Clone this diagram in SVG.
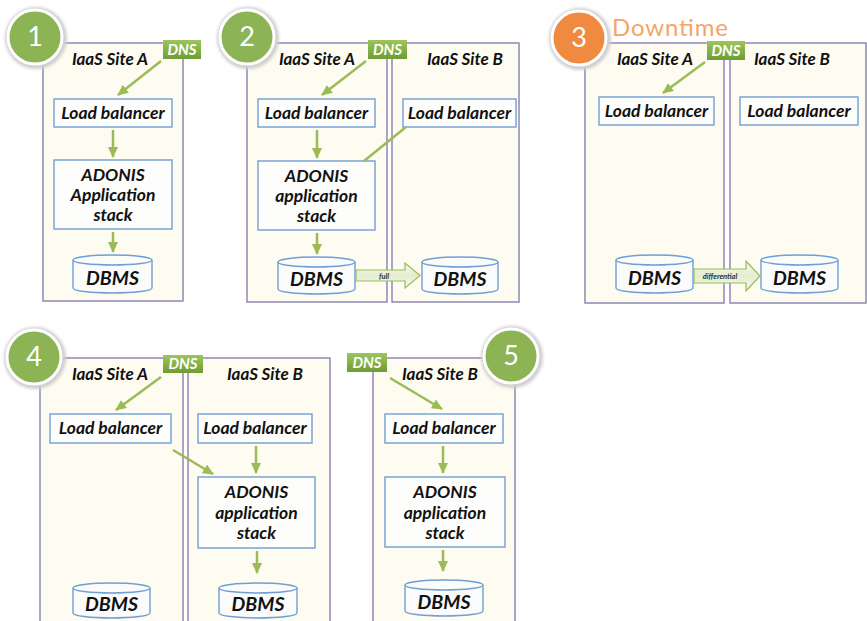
<svg xmlns="http://www.w3.org/2000/svg" width="867" height="621" viewBox="0 0 867 621">
<defs>
<style>
.site{fill:#fefcf1;stroke:#8e87b6;stroke-width:1.5}
.node{fill:#fdfdfb;stroke:#6f9fd3;stroke-width:1.4}
.cyl{fill:#fbfbfb;stroke:#6f9fd3;stroke-width:1.4}
.t{font-family:Lato,"Liberation Sans",sans-serif;font-weight:bold;font-style:italic;fill:#111111;text-anchor:middle}
.site-t{font-size:17px}
.node-t{font-size:17.5px}
.db-t{font-size:19.5px}
.dns{fill:url(#dnsg)}
.dns-t{font-family:Lato,"Liberation Sans",sans-serif;font-weight:bold;font-style:italic;font-size:15px;fill:#ffffff;text-anchor:middle}
.num{font-family:Lato,"Liberation Sans",sans-serif;font-size:27px;fill:#ffffff;text-anchor:middle}
.cg{fill:#8cb354;stroke:#ffffff;stroke-width:3}
.co{fill:#ef8a40;stroke:#ffffff;stroke-width:3}
.sh{fill:#cfcfcf;filter:url(#blur)}
.conn{stroke:#9bbb59;stroke-width:2.5;fill:none}
.blk{fill:url(#blkg);stroke:#9bbb59;stroke-width:1.2}
.small{font-family:Lato,"Liberation Sans",sans-serif;font-style:italic;font-weight:bold;fill:#333;text-anchor:middle}
</style>
<linearGradient id="dnsg" x1="0" y1="0" x2="0" y2="1">
<stop offset="0" stop-color="#9cc65c"/><stop offset="1" stop-color="#6f9d33"/>
</linearGradient>
<linearGradient id="blkg" x1="0" y1="0" x2="0" y2="1">
<stop offset="0" stop-color="#f6f9ee"/><stop offset="0.5" stop-color="#e4edcf"/><stop offset="1" stop-color="#f6f9ee"/>
</linearGradient>
<filter id="blur" x="-20%" y="-20%" width="140%" height="140%"><feGaussianBlur stdDeviation="1.5"/></filter>
<marker id="ah" markerUnits="userSpaceOnUse" markerWidth="11" markerHeight="10" refX="10" refY="5" orient="auto">
<path d="M0,0 L11,5 L0,10 z" fill="#9bbb59"/>
</marker>
</defs>
<rect width="867" height="621" fill="#ffffff"/>

<!-- Panel 1 -->
<g id="p1-siteA"><rect class="site" x="43" y="43" width="140" height="258"/><text class="t site-t" x="110" y="65">IaaS Site A</text></g>
<g id="p1-lb"><rect class="node" x="54" y="99" width="118" height="28"/><text class="t node-t" x="113" y="119">Load balancer</text></g>
<g id="p1-adonis"><rect class="node" x="54" y="160" width="118" height="69"/><text class="t node-t" x="113" y="181">ADONIS</text><text class="t node-t" x="113" y="201">Application</text><text class="t node-t" x="113" y="221">stack</text></g>
<g id="p1-dbms"><path class="cyl" d="M73,260 a39.5,5 0 0 1 79,0 v28 a39.5,5 0 0 1 -79,0 z"/><path class="cyl" d="M73,260 a39.5,5 0 0 0 79,0" fill="none"/><text class="t db-t" x="112.5" y="285">DBMS</text></g>
<g id="p1-dns"><rect class="dns" x="163" y="40" width="38" height="19"/><text class="dns-t" x="182" y="55">DNS</text></g>
<g id="p1-step"><circle class="sh" cx="36" cy="38" r="31"/><circle class="cg" cx="35" cy="37" r="27"/><text class="num" x="35" y="46">1</text></g>

<!-- Panel 2 -->
<g id="p2-siteA"><rect class="site" x="247" y="43" width="140" height="259"/><text class="t site-t" x="317" y="65">IaaS Site A</text></g>
<g id="p2-siteB"><rect class="site" x="392" y="43" width="127" height="259"/><text class="t site-t" x="465" y="65">IaaS Site B</text></g>
<g id="p2-lbA"><rect class="node" x="258" y="99" width="117" height="28"/><text class="t node-t" x="316.5" y="119">Load balancer</text></g>
<g id="p2-lbB"><rect class="node" x="403" y="99" width="113" height="28"/><text class="t node-t" x="459.5" y="119">Load balancer</text></g>
<g id="p2-adonis"><rect class="node" x="258" y="161" width="117" height="69"/><text class="t node-t" x="316.5" y="182">ADONIS</text><text class="t node-t" x="316.5" y="202">application</text><text class="t node-t" x="316.5" y="222">stack</text></g>
<g id="p2-dbmsA"><path class="cyl" d="M278,262 a38.5,5 0 0 1 77,0 v27 a38.5,5 0 0 1 -77,0 z"/><path class="cyl" d="M278,262 a38.5,5 0 0 0 77,0" fill="none"/><text class="t db-t" x="316.5" y="286">DBMS</text></g>
<g id="p2-dbmsB"><path class="cyl" d="M422,262 a38,5 0 0 1 76,0 v27 a38,5 0 0 1 -76,0 z"/><path class="cyl" d="M422,262 a38,5 0 0 0 76,0" fill="none"/><text class="t db-t" x="460" y="286">DBMS</text></g>
<g id="p2-dns"><rect class="dns" x="368" y="40" width="39" height="19"/><text class="dns-t" x="387.5" y="55">DNS</text></g>
<g id="p2-step"><circle class="sh" cx="248" cy="38" r="31"/><circle class="cg" cx="247" cy="37" r="27"/><text class="num" x="247" y="46">2</text></g>

<!-- Panel 3 -->
<g id="p3-siteA"><rect class="site" x="585" y="43" width="139" height="260"/><text class="t site-t" x="655" y="65">IaaS Site A</text></g>
<g id="p3-siteB"><rect class="site" x="730" y="43" width="136" height="260"/><text class="t site-t" x="792" y="65">IaaS Site B</text></g>
<g id="p3-lbA"><rect class="node" x="599" y="97" width="115" height="28"/><text class="t node-t" x="656.5" y="117">Load balancer</text></g>
<g id="p3-lbB"><rect class="node" x="740" y="97" width="118" height="28"/><text class="t node-t" x="799" y="117">Load balancer</text></g>
<g id="p3-dbmsA"><path class="cyl" d="M616,260 a38.5,5 0 0 1 77,0 v28 a38.5,5 0 0 1 -77,0 z"/><path class="cyl" d="M616,260 a38.5,5 0 0 0 77,0" fill="none"/><text class="t db-t" x="654.5" y="285">DBMS</text></g>
<g id="p3-dbmsB"><path class="cyl" d="M761,260 a38.5,5 0 0 1 77,0 v28 a38.5,5 0 0 1 -77,0 z"/><path class="cyl" d="M761,260 a38.5,5 0 0 0 77,0" fill="none"/><text class="t db-t" x="799.5" y="285">DBMS</text></g>
<g id="p3-dns"><rect class="dns" x="707" y="41" width="38" height="19"/><text class="dns-t" x="726" y="56">DNS</text></g>
<g id="p3-step"><circle class="sh" cx="580" cy="39" r="31"/><circle class="co" cx="579" cy="38" r="27"/><text class="num" x="579" y="47">3</text></g>
<text id="p3-downtime" x="612" y="36" font-family="Lato,'Liberation Sans',sans-serif" font-size="24" fill="#f5a468" textLength="116">Downtime</text>

<!-- Panel 4 -->
<g id="p4-siteA"><rect class="site" x="40" y="358" width="143" height="280"/><text class="t site-t" x="110" y="380">IaaS Site A</text></g>
<g id="p4-siteB"><rect class="site" x="188" y="358" width="142" height="280"/><text class="t site-t" x="265" y="380">IaaS Site B</text></g>
<g id="p4-lbA"><rect class="node" x="50" y="414" width="121" height="29"/><text class="t node-t" x="110.5" y="434">Load balancer</text></g>
<g id="p4-lbB"><rect class="node" x="198" y="414" width="114" height="29"/><text class="t node-t" x="255" y="434">Load balancer</text></g>
<g id="p4-adonis"><rect class="node" x="198" y="477" width="117" height="71"/><text class="t node-t" x="256.5" y="498">ADONIS</text><text class="t node-t" x="256.5" y="519">application</text><text class="t node-t" x="256.5" y="539">stack</text></g>
<g id="p4-dbmsA"><path class="cyl" d="M73,588 a38.5,5 0 0 1 77,0 v25 a38.5,5 0 0 1 -77,0 z"/><path class="cyl" d="M73,588 a38.5,5 0 0 0 77,0" fill="none"/><text class="t db-t" x="111.5" y="611">DBMS</text></g>
<g id="p4-dbmsB"><path class="cyl" d="M219,588 a39,5 0 0 1 78,0 v25 a39,5 0 0 1 -78,0 z"/><path class="cyl" d="M219,588 a39,5 0 0 0 78,0" fill="none"/><text class="t db-t" x="258" y="611">DBMS</text></g>
<g id="p4-dns"><rect class="dns" x="163" y="355" width="40" height="18"/><text class="dns-t" x="183" y="369">DNS</text></g>
<g id="p4-step"><circle class="sh" cx="35" cy="358" r="31"/><circle class="cg" cx="34" cy="357" r="27"/><text class="num" x="34" y="366">4</text></g>

<!-- Panel 5 -->
<g id="p5-siteB"><rect class="site" x="373" y="358" width="142" height="280"/><text class="t site-t" x="440" y="380">IaaS Site B</text></g>
<g id="p5-lb"><rect class="node" x="385" y="414" width="118" height="29"/><text class="t node-t" x="444" y="434">Load balancer</text></g>
<g id="p5-adonis"><rect class="node" x="385" y="477" width="120" height="70"/><text class="t node-t" x="445" y="498">ADONIS</text><text class="t node-t" x="445" y="519">application</text><text class="t node-t" x="445" y="539">stack</text></g>
<g id="p5-dbms"><path class="cyl" d="M405,585 a39,5 0 0 1 78,0 v26 a39,5 0 0 1 -78,0 z"/><path class="cyl" d="M405,585 a39,5 0 0 0 78,0" fill="none"/><text class="t db-t" x="444" y="609">DBMS</text></g>
<g id="p5-dns"><rect class="dns" x="347" y="353" width="40" height="19"/><text class="dns-t" x="367" y="368">DNS</text></g>
<g id="p5-step"><circle class="sh" cx="512" cy="357" r="31"/><circle class="cg" cx="511" cy="356" r="27"/><text class="num" x="511" y="365">5</text></g>

<!-- Connectors -->
<g id="connectors">
<line class="conn" x1="161" y1="61" x2="118" y2="95" marker-end="url(#ah)"/>
<line class="conn" x1="113" y1="130" x2="113" y2="157" marker-end="url(#ah)"/>
<line class="conn" x1="113" y1="232" x2="113" y2="252" marker-end="url(#ah)"/>

<line class="conn" x1="366" y1="61" x2="322" y2="95" marker-end="url(#ah)"/>
<line class="conn" x1="317" y1="130" x2="317" y2="158" marker-end="url(#ah)"/>
<line class="conn" x1="317" y1="233" x2="317" y2="254" marker-end="url(#ah)"/>
<line class="conn" x1="406" y1="127" x2="364" y2="161"/>
<path class="blk" d="M356,270 H405 V263 L420,275.5 L405,288 V281 H356 z"/>
<text class="small" x="384" y="278.5" font-size="7.5" font-weight="normal">full</text>

<line class="conn" x1="705" y1="62" x2="663" y2="93" marker-end="url(#ah)"/>
<path class="blk" d="M694,269 H746 V261 L760,276 L746,291 V283 H694 z"/>
<text class="small" x="720" y="279" font-size="7.5">differential</text>

<line class="conn" x1="161" y1="377" x2="116" y2="410" marker-end="url(#ah)"/>
<line class="conn" x1="173" y1="450" x2="213" y2="474" marker-end="url(#ah)"/>
<line class="conn" x1="256" y1="446" x2="256" y2="473" marker-end="url(#ah)"/>
<line class="conn" x1="257" y1="551" x2="257" y2="573" marker-end="url(#ah)"/>

<line class="conn" x1="390" y1="378" x2="442" y2="409" marker-end="url(#ah)"/>
<line class="conn" x1="443" y1="446" x2="443" y2="473" marker-end="url(#ah)"/>
<line class="conn" x1="443" y1="550" x2="443" y2="571" marker-end="url(#ah)"/>
</g>
</svg>
